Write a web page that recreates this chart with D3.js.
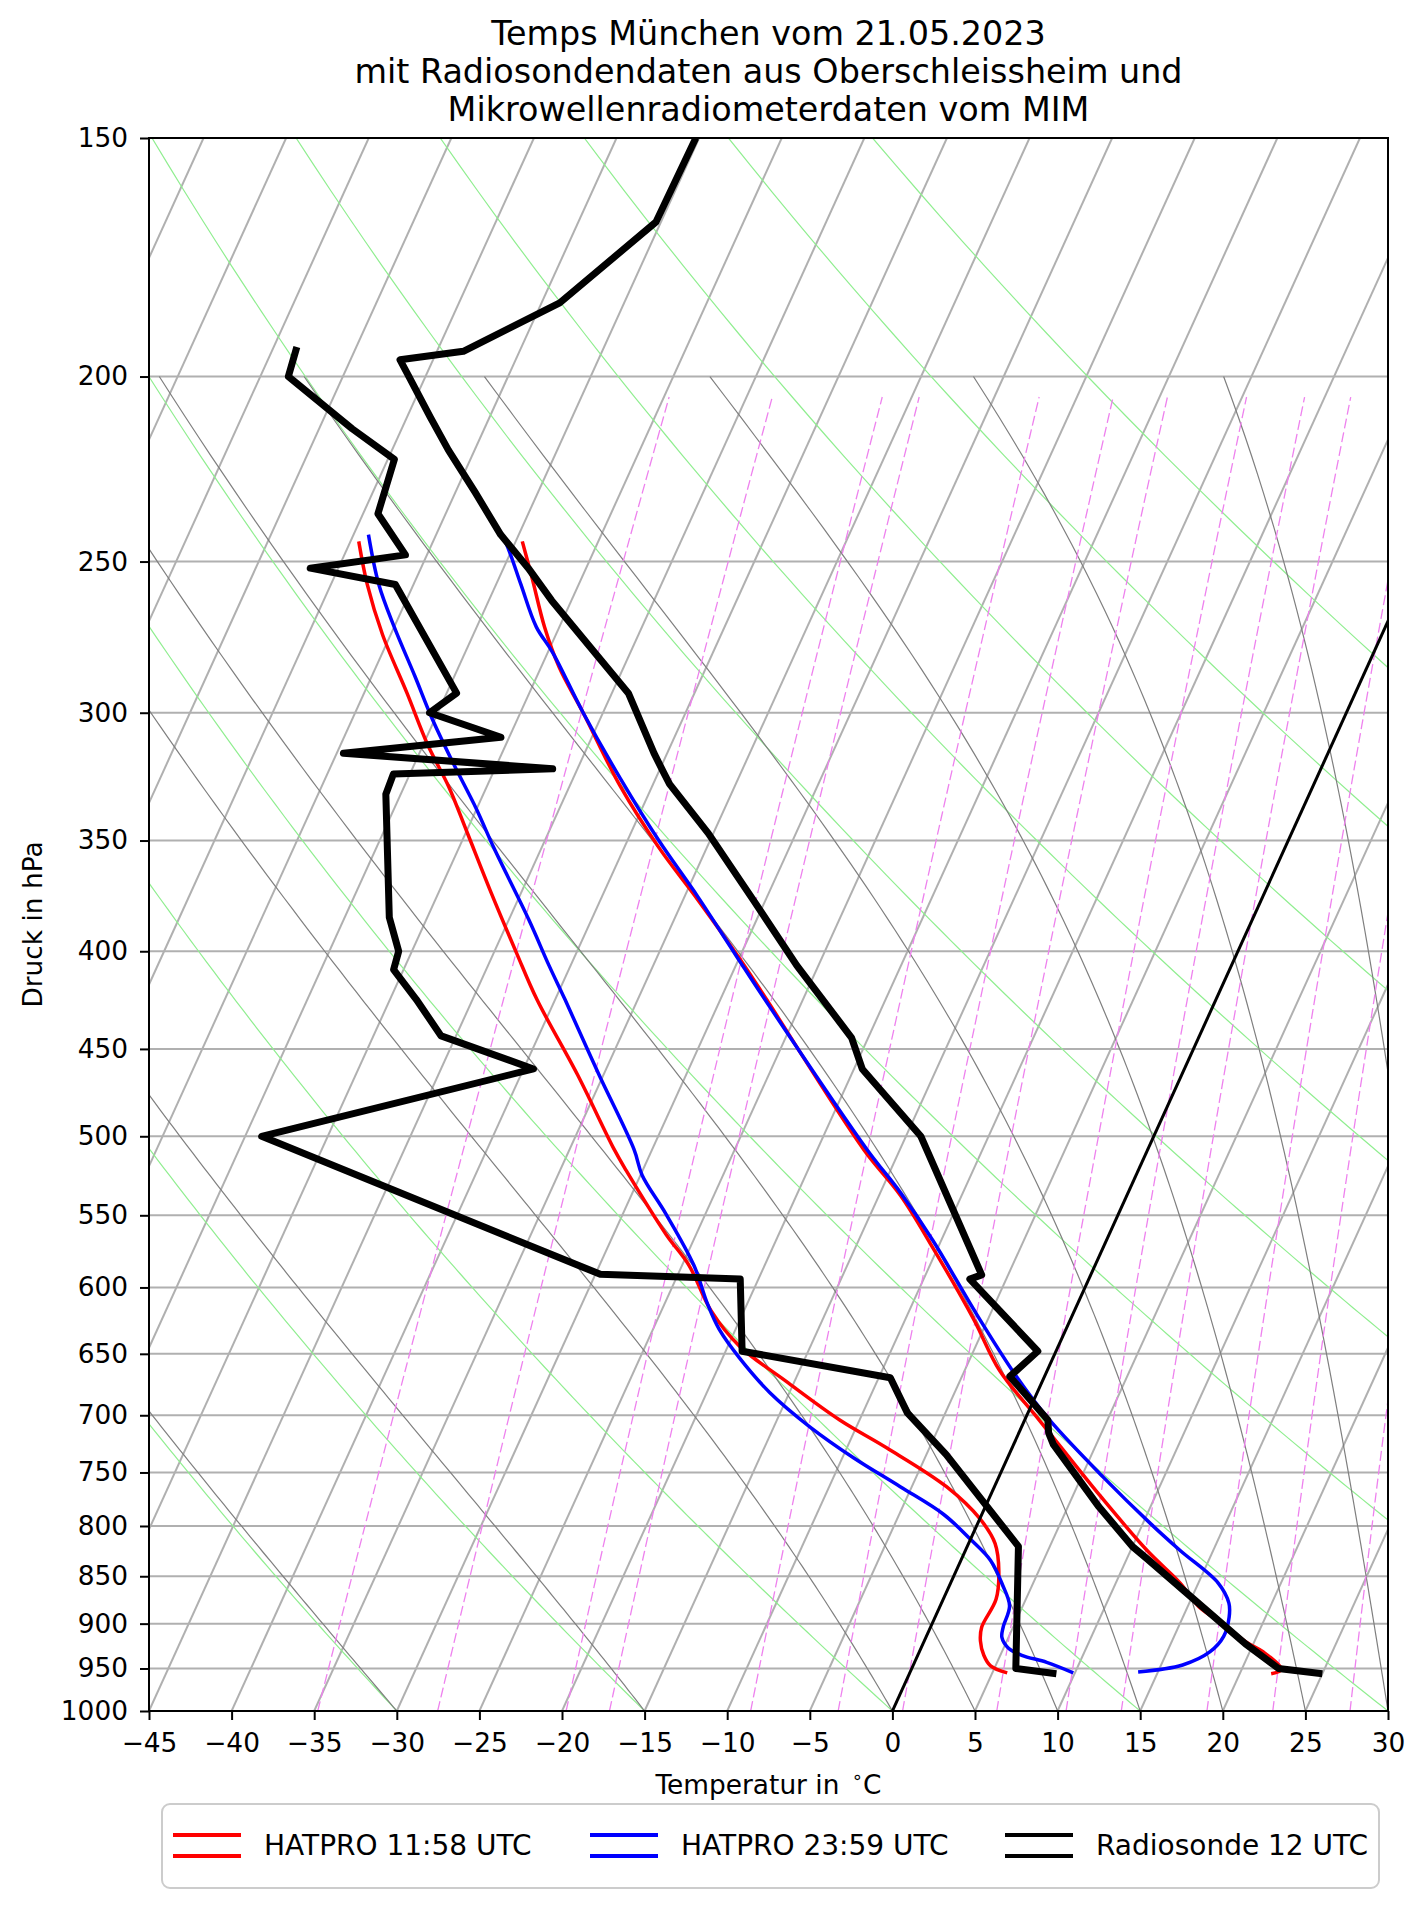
<!DOCTYPE html>
<html>
<head>
<meta charset="utf-8">
<title>Temps München 21.05.2023</title>
<script src="https://d3js.org/d3.v7.min.js"></script>
<style>
    body { margin: 0; background: #fff; }
    svg { font-family: "DejaVu Sans", sans-serif; }
</style>
</head>
<body>
<div id="chart"></div>
<script>
    // Radiosonde Oberschleissheim 12 UTC, temperature (hPa / °C)
    var sondeP = [956, 950, 922, 871, 832, 820, 782, 725, 715, 704, 668, 648, 594, 591, 500, 461, 444, 407, 377, 347, 327, 323, 315, 293, 262, 252, 242, 230, 218.5, 210, 200, 196, 194, 183, 166, 150];
    var sondeT = [25.0, 22.2, 19.5, 14.9, 11.2, 10.0, 6.9, 2.4, 1.8, 1.4, -2.1, -1.1, -7.2, -6.6, -14.1, -19.5, -21.0, -26.3, -30.6, -35.3, -39.0, -39.6, -40.8, -44.0, -51.2, -53.5, -56.1, -58.8, -61.6, -63.6, -66.0, -67.0, -63.4, -58.9, -55.3, -55.2];
    // Radiosonde dewpoint
    var sondeTdP = [956, 950, 820, 734, 698, 669, 648, 594, 590.6, 500, 461, 443, 424, 409, 400, 384, 331, 323, 321, 315, 309, 300, 293, 257, 252, 248, 236, 221, 213, 200, 193];
    var sondeTd = [8.9, 6.3, 3.1, -3.8, -7.3, -9.3, -19.0, -21.1, -29.7, -54.0, -39.4, -45.9, -48.4, -50.6, -50.8, -52.3, -55.9, -56.0, -46.5, -59.6, -50.5, -55.5, -54.4, -61.1, -66.7, -61.3, -64.1, -64.6, -68.0, -73.3, -73.6];

    // HATPRO 11:58 UTC
    var hat12P = [956, 951, 931, 920, 900, 882, 857, 824, 772, 727, 701, 663, 623, 572, 537, 508, 424, 404, 376, 353, 328, 300, 284, 270.5, 255, 244];
    var hat12T = [21.9, 22.4, 20.8, 19.5, 17.6, 15.7, 13.9, 11.0, 6.7, 2.9, 0.6, -2.9, -5.9, -10.3, -13.7, -17.2, -27.2, -29.9, -34.1, -37.9, -41.9, -46.2, -48.9, -50.9, -53.0, -54.6];
    var hat12TdP = [955, 947, 935, 919, 904, 874, 845, 817, 793, 763, 728, 704, 672, 644, 617, 584, 563, 521, 508, 464, 424, 401, 372, 346, 328, 312, 293, 273, 257, 244];
    var hat12Td = [5.9, 4.7, 4.0, 3.4, 3.1, 3.2, 2.6, 1.6, 0.0, -2.9, -7.6, -11.2, -15.5, -19.3, -22.0, -24.6, -26.8, -31.0, -32.3, -36.6, -41.1, -43.6, -46.9, -50.0, -52.3, -54.7, -57.4, -60.5, -62.8, -64.5];

    // HATPRO 23:59 UTC
    var hat24P = [954, 946, 931, 914, 893, 878, 857, 824, 797, 754, 704, 668, 620, 567, 535, 508, 424, 402.5, 374.5, 350, 325, 300, 279, 270.5, 257, 247, 242];
    var hat24T = [13.8, 16.3, 17.6, 18.0, 17.8, 17.4, 16.2, 13.0, 10.4, 6.3, 1.5, -1.7, -5.8, -10.5, -13.8, -17.0, -27.3, -30.2, -34.2, -38.1, -42.1, -46.2, -49.7, -51.4, -53.5, -55.1, -56.0];
    var hat24TdP = [955, 943, 935, 927, 915, 904, 881, 859, 834, 813, 789, 763, 737, 710, 681, 653, 631, 612, 584, 549, 524, 508, 464, 424, 407, 385, 353, 337, 318, 302, 287, 270.5, 257, 242];
    var hat24Td = [9.9, 8.0, 6.3, 5.3, 4.6, 4.4, 4.2, 3.2, 1.8, 0.0, -2.3, -5.7, -9.3, -12.8, -16.2, -19.0, -21.0, -22.4, -24.3, -27.4, -29.9, -31.1, -35.3, -39.4, -41.3, -43.8, -47.9, -50.0, -52.8, -55.2, -57.4, -60.0, -62.1, -64.1];

    var legendLabels = ["HATPRO 11:58 UTC", "HATPRO 23:59 UTC", "Radiosonde 12 UTC"];
    var legendColors = ["red", "blue", "black"];

    var xTicks = [-45, -40, -35, -30, -25, -20, -15, -10, -5, 0, 5, 10, 15, 20, 25, 30];
    var pTicks = [150, 200, 250, 300, 350, 400, 450, 500, 550, 600, 650, 700, 750, 800, 850, 900, 950, 1000];

    // background lines
    var dryTheta = [-30, -15, 0, 15, 30, 45, 60, 75, 90, 105, 120];   // °C at 1000 hPa
    var moistT0 = [-30, -15, 0, 5, 10, 15, 20, 25, 30, 35];          // °C at 1000 hPa
    var mixRatios = [0.2, 0.4, 0.8, 1, 2, 3, 4, 6, 8, 10, 14, 18, 24]; // g/kg

    var width = 1427, height = 1907;
    var plotLeft = 149, plotRight = 1388, plotTop = 138, plotBottom = 1711;

    var svg = d3.select("#chart").append("svg")
        .attr("width", width).attr("height", height);

    var x = d3.scaleLinear().domain([-45, 30]).range([plotLeft, plotRight]);
    var y = d3.scaleLog().domain([1000, 150]).range([plotBottom, plotTop]);
    // skew-x with 30 degree rotation
    var skew = Math.tan(30 * Math.PI / 180) * (plotRight - plotLeft) / (plotBottom - plotTop);
    function sx(t, p) { return x(t) + skew * (plotBottom - y(p)); }

    var line = d3.line().x(function(d) { return sx(d[1], d[0]); }).y(function(d) { return y(d[0]); });
    var smooth = d3.line().curve(d3.curveCatmullRom.alpha(0.5))
        .x(function(d) { return sx(d[1], d[0]); }).y(function(d) { return y(d[0]); });

    svg.append("clipPath").attr("id", "plot")
        .append("rect").attr("x", plotLeft).attr("y", plotTop)
        .attr("width", plotRight - plotLeft).attr("height", plotBottom - plotTop);
    var g = svg.append("g").attr("clip-path", "url(#plot)");

    // skewed isotherm grid
    d3.range(-90, 31, 5).forEach(function(t) {
        g.append("line")
            .attr("x1", sx(t, 1000)).attr("y1", y(1000))
            .attr("x2", sx(t, 150)).attr("y2", y(150))
            .attr("stroke", "#b0b0b0").attr("stroke-width", 2);
    });
    // pressure grid
    pTicks.forEach(function(p) {
        g.append("line").attr("x1", plotLeft).attr("x2", plotRight).attr("y1", y(p)).attr("y2", y(p))
            .attr("stroke", "#b0b0b0").attr("stroke-width", 2);
    });

    var pLevels = [];
    for (var p = 1000; p >= 150; p -= 5) pLevels.push(p);

    // dry adiabats
    dryTheta.forEach(function(th) {
        var pts = pLevels.map(function(p) { return [p, (th + 273.15) * Math.pow(p / 1000, 0.2857) - 273.15]; });
        g.append("path").attr("d", line(pts)).attr("fill", "none")
            .attr("stroke", "#90ee90").attr("stroke-width", 1.2);
    });

    // moist adiabats (integrated from 1000 hPa)
    var Rd = 287.04749, Cp = 1004.67, Lv = 2.50084e6, eps = 0.621957;
    function satMR(p, T) {
        var es = 6.112 * Math.exp(17.67 * (T - 273.15) / (T - 29.65));
        return eps * es / (p - es);
    }
    function dTdp(p, T) {
        var rs = satMR(p, T);
        return (Rd * T + Lv * rs) / (Cp + Lv * Lv * rs * eps / (Rd * T * T)) / p;
    }
    moistT0.forEach(function(t0) {
        var T = t0 + 273.15, pts = [[1000, t0]], h = -1;
        for (var p = 1000; p > 200; p += h) {
            var k1 = dTdp(p, T), k2 = dTdp(p + h / 2, T + h / 2 * k1),
                k3 = dTdp(p + h / 2, T + h / 2 * k2), k4 = dTdp(p + h, T + h * k3);
            T += h / 6 * (k1 + 2 * k2 + 2 * k3 + k4);
            if ((p + h) % 5 === 0) pts.push([p + h, T - 273.15]);
        }
        g.append("path").attr("d", line(pts)).attr("fill", "none")
            .attr("stroke", "#7f7f7f").attr("stroke-width", 1.2);
    });

    // mixing ratio lines
    mixRatios.forEach(function(w) {
        var r = w / 1000;
        var pts = [];
        for (var p = 1000; p >= 205; p -= 5) {
            var e = p * r / (eps + r), a = Math.log(e / 6.112);
            pts.push([p, 243.5 * a / (17.67 - a)]);
        }
        g.append("path").attr("d", line(pts)).attr("fill", "none")
            .attr("stroke", "#ee82ee").attr("stroke-width", 1.3).attr("stroke-dasharray", "10,4");
    });

    // profiles
    function pairs(ps, ts) { return ps.map(function(p, i) { return [p, ts[i]]; }); }
    g.append("path").attr("d", smooth(pairs(hat12P, hat12T))).attr("fill", "none").attr("stroke", "red").attr("stroke-width", 3.5);
    g.append("path").attr("d", smooth(pairs(hat12TdP, hat12Td))).attr("fill", "none").attr("stroke", "red").attr("stroke-width", 3.5);
    g.append("path").attr("d", smooth(pairs(hat24P, hat24T))).attr("fill", "none").attr("stroke", "blue").attr("stroke-width", 3.5);
    g.append("path").attr("d", smooth(pairs(hat24TdP, hat24Td))).attr("fill", "none").attr("stroke", "blue").attr("stroke-width", 3.5);
    g.append("path").attr("d", line(pairs(sondeP, sondeT))).attr("fill", "none").attr("stroke", "black").attr("stroke-width", 7).attr("stroke-linejoin", "round");
    g.append("path").attr("d", line(pairs(sondeTdP, sondeTd))).attr("fill", "none").attr("stroke", "black").attr("stroke-width", 7).attr("stroke-linejoin", "round");

    // 0 °C isotherm
    g.append("line")
        .attr("x1", sx(0, 1000)).attr("y1", y(1000))
        .attr("x2", sx(0, 150)).attr("y2", y(150))
        .attr("stroke", "black").attr("stroke-width", 3);

    // spines
    svg.append("rect").attr("x", plotLeft).attr("y", plotTop)
        .attr("width", plotRight - plotLeft).attr("height", plotBottom - plotTop)
        .attr("fill", "none").attr("stroke", "black").attr("stroke-width", 2);

    // axes
    var xAxis = svg.append("g").attr("transform", "translate(0," + plotBottom + ")")
        .call(d3.axisBottom(x).tickValues(xTicks).tickSize(9).tickPadding(13));
    var yAxis = svg.append("g").attr("transform", "translate(" + plotLeft + ",0)")
        .call(d3.axisLeft(y).tickValues(pTicks).tickFormat(d3.format("d")).tickSize(9).tickPadding(12));
    [xAxis, yAxis].forEach(function(a) {
        a.select(".domain").remove();
        a.selectAll(".tick line").attr("stroke", "black").attr("stroke-width", 2);
        a.selectAll(".tick text").attr("font-family", "DejaVu Sans").attr("font-size", "26.4px").attr("fill", "black");
    });

    // labels
    svg.append("text").attr("x", (plotLeft + plotRight) / 2).attr("y", 1794).attr("text-anchor", "middle")
        .attr("font-size", "26.4px")
        .html('Temperatur in <tspan font-size="18px" dx="4" dy="-11">∘</tspan><tspan dy="11">C</tspan>');
    svg.append("text").attr("transform", "translate(42," + (plotTop + plotBottom) / 2 + ") rotate(-90)")
        .attr("text-anchor", "middle").attr("font-size", "26.4px").text("Druck in hPa");

    var titleLines = ["Temps München vom 21.05.2023", "mit Radiosondendaten aus Oberschleissheim und", "Mikrowellenradiometerdaten vom MIM"];
    titleLines.forEach(function(s, i) {
        svg.append("text").attr("x", (plotLeft + plotRight) / 2).attr("y", 45 + i * 38)
            .attr("text-anchor", "middle").attr("font-size", "33.4px").text(s);
    });

    // legend
    svg.append("rect").attr("x", 162).attr("y", 1804).attr("width", 1217).attr("height", 84).attr("rx", 8)
        .attr("fill", "white").attr("stroke", "#cccccc").attr("stroke-width", 2);
    var legX = [173, 590, 1005];
    legendLabels.forEach(function(lab, i) {
        [1835, 1856].forEach(function(ly) {
            svg.append("line").attr("x1", legX[i]).attr("x2", legX[i] + 68).attr("y1", ly).attr("y2", ly)
                .attr("stroke", legendColors[i]).attr("stroke-width", 4);
        });
        svg.append("text").attr("x", legX[i] + 91).attr("y", 1855).attr("font-size", "28px").text(lab);
    });
</script>
</body>
</html>
